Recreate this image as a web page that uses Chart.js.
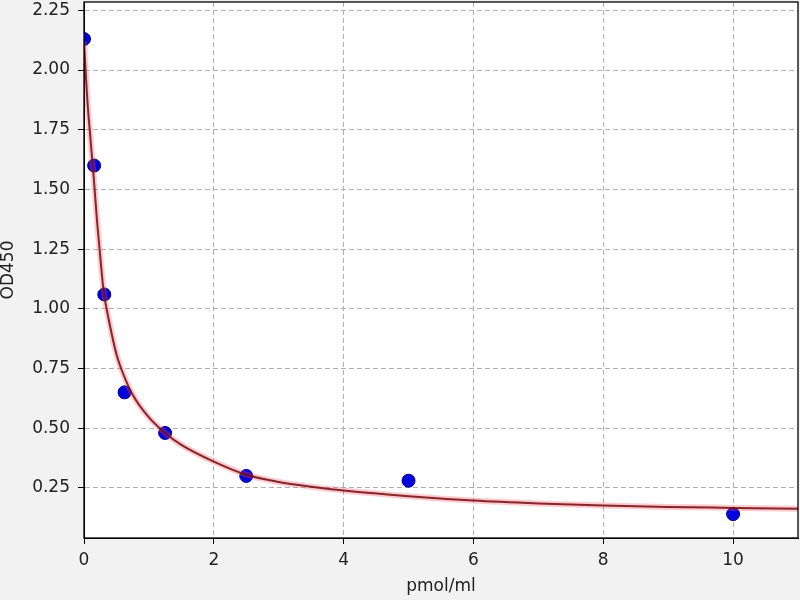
<!DOCTYPE html>
<html>
<head>
<meta charset="utf-8">
<script src="https://cdn.jsdelivr.net/npm/chart.js@4"></script>
<style>
  body { margin: 0; background: #f2f2f2; }
  canvas { display: block; }
</style>
</head>
<body>
<canvas id="myChart" width="800" height="600"></canvas>
<script>
// standards
var concX = [0, 0.156, 0.3125, 0.625, 1.25, 2.5, 5, 10];
var odY = [2.13, 1.60, 1.06, 0.65, 0.48, 0.30, 0.28, 0.14];

// fitted curve
var fitX = [0, 0.02, 0.05, 0.1, 0.134, 0.15, 0.2, 0.25, 0.3, 0.4, 0.5, 0.6, 0.75, 1.0, 1.25, 1.5, 2.0, 2.5, 3.0, 3.5, 4, 5, 6, 7, 8, 9, 10, 11];
var fitY = [2.12, 2.02, 1.88, 1.71, 1.60, 1.55, 1.37, 1.22, 1.08, 0.93, 0.81, 0.73, 0.64, 0.545, 0.48, 0.43, 0.36, 0.305, 0.275, 0.255, 0.239, 0.215, 0.197, 0.185, 0.176, 0.170, 0.166, 0.162];

var xTicks = [0, 2, 4, 6, 8, 10];
var yTicks = [0.25, 0.5, 0.75, 1.0, 1.25, 1.5, 1.75, 2.0, 2.25];

var pts = concX.map((x, i) => ({x: x, y: odY[i]}))
var fit = fitX.map((x, i) => ({x: x, y: fitY[i]}))

const frame = {
  id: 'frame',
  beforeDraw(chart) {
    const {ctx, chartArea: a} = chart
    ctx.save()
    ctx.fillStyle = '#f2f2f2'
    ctx.fillRect(0, 0, chart.width, chart.height)
    ctx.fillStyle = '#ffffff'
    ctx.fillRect(a.left, a.top, a.right - a.left, a.bottom - a.top)
    ctx.restore()
  },
  afterDraw(chart) {
    const {ctx, chartArea: a} = chart
    ctx.save()
    ctx.strokeStyle = '#000'
    ctx.lineWidth = 1.3
    ctx.strokeRect(a.left, a.top, a.right - a.left, a.bottom - a.top)
    ctx.restore()
  }
}

const font = { family: 'DejaVu Sans', size: 17 }

new Chart("myChart", {
  type: "scatter",
  data: {
    datasets: [{
      data: pts,
      backgroundColor: '#0000dd',
      borderColor: '#00009a',
      borderWidth: 1,
      pointRadius: 6.5,
      order: 3
    }, {
      data: fit,
      showLine: true,
      pointRadius: 0,
      borderColor: 'rgba(255,80,90,0.3)',
      borderWidth: 6,
      cubicInterpolationMode: 'monotone',
      order: 2
    }, {
      data: fit,
      showLine: true,
      pointRadius: 0,
      borderColor: 'rgba(115,15,20,0.88)',
      borderWidth: 2,
      cubicInterpolationMode: 'monotone',
      order: 1
    }]
  },
  options: {
    responsive: false,
    animation: false,
    devicePixelRatio: 1,
    layout: { autoPadding: false, padding: { top: 2, right: 2, left: 0, bottom: 0 } },
    plugins: {
      legend: { display: false },
      tooltip: { enabled: false }
    },
    scales: {
      x: {
        type: 'linear',
        min: 0,
        max: 11,
        afterBuildTicks: s => { s.ticks = xTicks.map(v => ({value: v})) },
        afterFit: s => { s.height = 62; s.paddingLeft = 0; s.paddingRight = 0 },
        ticks: { color: '#222', font: font, padding: 6, maxRotation: 0, callback: v => String(v) },
        grid: { color: '#b0b0b0', tickColor: '#000', tickLength: 6, lineWidth: 1 },
        border: { color: '#000', width: 1, dash: [5, 3] },
        title: { display: true, text: 'pmol/ml', color: '#222', font: font, padding: { top: 0, bottom: 3 } }
      },
      y: {
        type: 'linear',
        min: 0.04,
        max: 2.285,
        afterBuildTicks: s => { s.ticks = yTicks.map(v => ({value: v})) },
        afterFit: s => { s.width = 84; s.paddingTop = 0; s.paddingBottom = 0 },
        ticks: { color: '#222', font: font, padding: 8, callback: v => v.toFixed(2) },
        grid: { color: '#b0b0b0', tickColor: '#000', tickLength: 6, lineWidth: 1 },
        border: { color: '#000', width: 1, dash: [5, 3] },
        title: { display: true, text: 'OD450', color: '#222', font: { family: 'DejaVu Sans', size: 17, lineHeight: 1 }, padding: { top: 0, bottom: 0 } }
      }
    }
  },
  plugins: [frame]
});
</script>
</body>
</html>
